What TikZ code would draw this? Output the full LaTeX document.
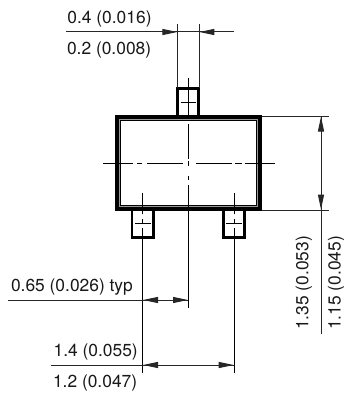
\documentclass[tikz,border=0pt]{standalone}
\usepackage{fontspec}
\setmainfont{TeX Gyre Heros}
\usetikzlibrary{arrows.meta}
\tikzset{
  x=1pt,y=-1pt,
  thinline/.style={line width=1pt,black},
  lead/.style={line width=2.7pt,black,line join=miter},
  body/.style={line width=6pt,black,line join=miter},
  dim/.style={line width=1pt,black!85},
  tip/.style={-{Triangle[length=15pt,width=6pt]}},
  lab/.style={font=\fontsize{17.4}{18}\selectfont,text=black!90,inner sep=0pt},
}
\begin{document}
\begin{tikzpicture}
\useasboundingbox (0,0) rectangle (344,393);
\fill[white] (0,0) rectangle (344,393);
% leads
\draw[lead] (177.8,115) -- (177.8,88.7) -- (198.7,88.7) -- (198.7,115);
\draw[lead] (132,211) -- (132,237.7) -- (153.4,237.7) -- (153.4,211);
\draw[lead] (223.3,211) -- (223.3,237.7) -- (244.7,237.7) -- (244.7,211);
% body
\draw[body] (118.3,118) rectangle (258.7,208);
\draw[line width=0.7pt,black!40] (119.6,119.3) rectangle (257.4,206.7);
% top dimension
\draw[dim] (177.7,24) -- (177.7,88);
\draw[dim] (199,24) -- (199,88);
\draw[dim] (66,32) -- (234,32);
\draw[dim,tip] (162,32) -- (177.4,32);
\draw[dim,tip] (214,32) -- (199.3,32);
% lead cross marks
\draw[thinline] (188.3,78) -- (188.3,115);
\draw[thinline] (180.7,103) -- (196,103);
\draw[thinline] (135,223) -- (150.5,223);
\draw[thinline] (226.3,223) -- (241.8,223);
\foreach \x in {142.7,234}{
  \draw[thinline] (\x,193) -- (\x,214);
  \draw[thinline] (\x,219) -- (\x,223);
  \draw[thinline] (\x,228) -- (\x,372.5);
}
% centre lines
\foreach \a/\b in {103/133,137/142,147/183,196/232,235/242,245/275}
  \draw[thinline] (\a,163) -- (\b,163);
\foreach \a/\b in {124/159,161/166,176/180,185/308}
  \draw[thinline] (188.3,\a) -- (188.3,\b);
% right dimension
\draw[dim] (262,116) -- (329,116);
\draw[dim] (262,210) -- (329,210);
\draw[dim] (321,117) -- (321,334);
\draw[dim,tip] (321,133) -- (321,116.5);
\draw[dim,tip] (321,193) -- (321,209.5);
% 0.65 dimension
\draw[dim] (8,300) -- (188.3,300);
\draw[dim,tip] (158,300) -- (143,300);
\draw[dim,tip] (173,300) -- (188,300);
% 1.4 dimension
\draw[dim] (51,365) -- (234,365);
\draw[dim,tip] (158,365) -- (143,365);
\draw[dim,tip] (219,365) -- (233.7,365);
% labels
\node[lab,anchor=base west] (a) at (67.2,24) {0.4 (0.016)};
\node[lab,anchor=base west] (b) at (66.8,55) {0.2 (0.008)};
\node[lab,anchor=base west] (c) at (10.8,291) {0.65 (0.026) typ};
\node[lab,anchor=base west] (d) at (53.4,356.7) {1.4 (0.055)};
\node[lab,anchor=base west] (e) at (52.8,387.7) {1.2 (0.047)};
\node[lab,anchor=base west,rotate=90] (f) at (308.3,330) {1.35 (0.053)};
\node[lab,anchor=base west,rotate=90] (g) at (340.5,330) {1.15 (0.045)};
\end{tikzpicture}
\end{document}
